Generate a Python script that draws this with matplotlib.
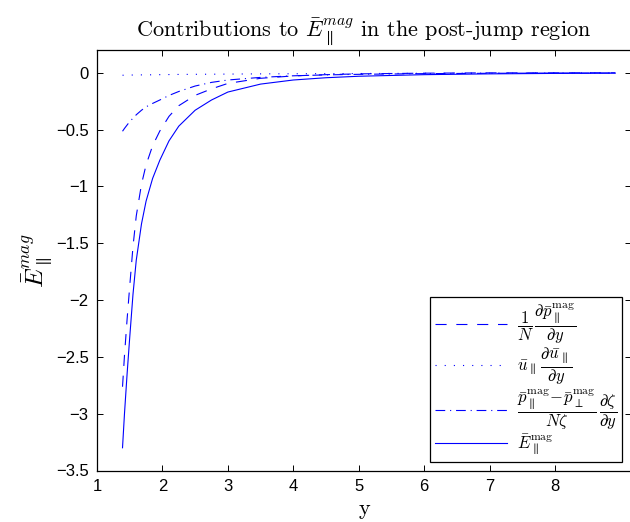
import matplotlib
matplotlib.use("Agg")
import matplotlib.pyplot as plt

plt.rcParams['font.family'] = ['Liberation Sans', 'DejaVu Sans']
plt.rcParams['mathtext.fontset'] = 'cm'
plt.rcParams['lines.scale_dashes'] = False
plt.rcParams['axes.unicode_minus'] = True

# ---- data ----
y_pos = [1.39, 1.42, 1.46, 1.50, 1.55, 1.60, 1.68, 1.75, 1.85, 1.96, 2.10, 2.25,
         2.50, 2.75, 3.00, 3.50, 4.00, 4.50, 5.00, 6.00, 7.00, 8.00, 8.92]
pressure_term = [-2.763, -2.488, -2.169, -1.879, -1.53, -1.26, -0.981, -0.811, -0.642,
                 -0.513, -0.384, -0.29, -0.199, -0.142, -0.094, -0.049, -0.028,
                 -0.017, -0.010, -0.004, -0.001, -0.0005, -0.0003]
velocity_term = [-0.022, -0.022, -0.021, -0.021, -0.020, -0.020, -0.019, -0.019, -0.018,
                 -0.017, -0.016, -0.015, -0.014, -0.013, -0.012, -0.010, -0.009,
                 -0.008, -0.007, -0.005, -0.004, -0.003, -0.002]
anisotropy_term = [-0.515, -0.49, -0.46, -0.43, -0.40, -0.37, -0.33, -0.30, -0.27,
                   -0.24, -0.20, -0.165, -0.117, -0.085, -0.064, -0.041, -0.027,
                   -0.019, -0.014, -0.008, -0.005, -0.003, -0.002]
E_total = [-3.30, -3.00, -2.65, -2.33, -1.95, -1.65, -1.33, -1.13, -0.93, -0.77, -0.60,
           -0.47, -0.33, -0.24, -0.17, -0.10, -0.064, -0.044, -0.031, -0.017, -0.010,
           -0.006, -0.004]

labels = [r'$\dfrac{1}{N}\,\dfrac{\partial \bar{p}_{\parallel}^{\rm mag}}{\partial y}$',
          r'$\bar{u}_{\parallel}\,\dfrac{\partial \bar{u}_{\parallel}}{\partial y}$',
          r'$\dfrac{\bar{p}_{\parallel}^{\rm mag}\!-\!\bar{p}_{\perp}^{\rm mag}}{N\zeta}\,\dfrac{\partial\zeta}{\partial y}\hspace{0.6}$',
          r'$\bar{E}_{\parallel}^{\rm mag}$']

xticks = [1, 2, 3, 4, 5, 6, 7, 8]
yticks = [0, -0.5, -1, -1.5, -2, -2.5, -3, -3.5]
ytick_labels = ['0', '\u22120.5', '\u22121', '\u22121.5', '\u22122', '\u22122.5', '\u22123', '\u22123.5']

title = r'Contributions to $\bar{E}_{\parallel}^{mag}$ in the post-jump region'

# ---- figure ----
fig = plt.figure(figsize=(6.3, 5.22), dpi=100)
ax = fig.add_axes([97/630, 51.5/522, 534/630, 420.5/522])

blue = (0, 0, 1)
lw = 0.8
ax.plot(y_pos, pressure_term, color=blue, lw=lw, linestyle=(0, (8, 7)), label=labels[0])
ax.plot(y_pos, velocity_term, color=blue, lw=lw, linestyle=(0, (0.8, 5.8)), label=labels[1])
ax.plot(y_pos, anisotropy_term, color=blue, lw=lw, linestyle=(0, (7, 3.5, 0.8, 3.5)), label=labels[2])
ax.plot(y_pos, E_total, color=blue, lw=lw, linestyle='-', label=labels[3])

ax.set_xlim(1, 1 + 534/65.43)
ax.set_ylim(-3.5, 0.2)
ax.set_xticks(xticks)
ax.set_xticklabels([str(t) for t in xticks])
ax.set_yticks(yticks)
ax.set_yticklabels(ytick_labels)
ax.tick_params(direction='in', length=4, width=0.7, top=True, right=True,
               labelsize=12, pad=6, colors='black')
for s in ax.spines.values():
    s.set_linewidth(0.9)
    s.set_color('black')

ax.set_title(title, family='cmr10', fontsize=16, pad=10)
ax.set_xlabel('y', family='cmr10', fontsize=16, labelpad=4)
ax.set_ylabel(r'$\bar{E}_{\parallel}^{mag}$', fontsize=18, labelpad=1)

leg = ax.legend(loc='lower right', bbox_to_anchor=((621.7-97)/534, (470.5-461.7)/420.5),
                borderaxespad=0, fontsize=12, handlelength=4.3, handletextpad=0.6,
                labelspacing=0.0, frameon=True, fancybox=False, framealpha=1,
                edgecolor='black', borderpad=0.3)
leg.get_frame().set_linewidth(0.9)

fig.savefig('out.png', dpi=100)
